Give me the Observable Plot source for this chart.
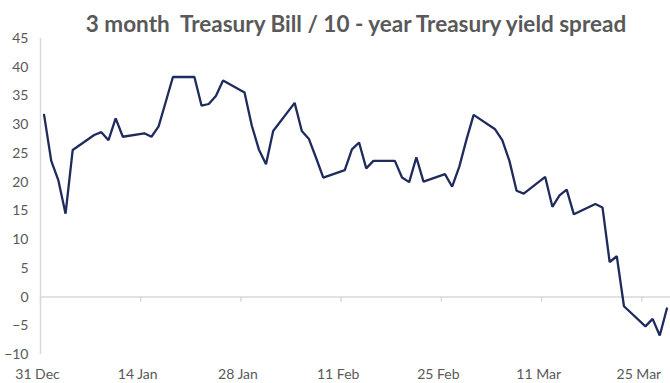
<!DOCTYPE html>
<html>
<head>
<meta charset="utf-8">
<script src="https://cdn.jsdelivr.net/npm/d3@7"></script>
<script src="https://cdn.jsdelivr.net/npm/@observablehq/plot@0.6"></script>
<style>
  html, body { margin: 0; padding: 0; background: #fff; }
  #wrap { position: relative; width: 670px; height: 383px; overflow: hidden; }
  #title { position: absolute; left: 0; width: 670px; top: 9px; text-align: center;
    font-family: Lato, sans-serif; font-weight: bold; font-size: 22.5px; color: #595959;
    line-height: 30px; padding-left: 42px; box-sizing: border-box; white-space: pre; }
</style>
</head>
<body>
<div id="wrap"><div id="title">3 month  Treasury Bill / 10 - year Treasury yield spread</div></div>
<script>
const dates = [
  "2018-12-31","2019-01-01","2019-01-02","2019-01-03","2019-01-04",
  "2019-01-07","2019-01-08","2019-01-09","2019-01-10","2019-01-11",
  "2019-01-14","2019-01-15","2019-01-16","2019-01-17","2019-01-18",
  "2019-01-21","2019-01-22","2019-01-23","2019-01-24","2019-01-25",
  "2019-01-28","2019-01-29","2019-01-30","2019-01-31","2019-02-01",
  "2019-02-04","2019-02-05","2019-02-06","2019-02-07","2019-02-08",
  "2019-02-11","2019-02-12","2019-02-13","2019-02-14","2019-02-15",
  "2019-02-18","2019-02-19","2019-02-20","2019-02-21","2019-02-22",
  "2019-02-25","2019-02-26","2019-02-27","2019-02-28","2019-03-01",
  "2019-03-04","2019-03-05","2019-03-06","2019-03-07","2019-03-08",
  "2019-03-11","2019-03-12","2019-03-13","2019-03-14","2019-03-15",
  "2019-03-18","2019-03-19","2019-03-20","2019-03-21","2019-03-22",
  "2019-03-25","2019-03-26","2019-03-27","2019-03-28"
];
const spread = [
  31.7, 23.7, 20.3, 14.5, 25.6,
  28.2, 28.7, 27.3, 31.1, 27.9,
  28.5, 27.9, 29.7, 34.0, 38.3,
  38.3, 33.3, 33.6, 35.0, 37.7,
  35.6, 29.9, 25.7, 23.1, 28.9,
  33.8, 28.9, 27.5, 24.2, 20.8,
  22.1, 25.7, 26.9, 22.4, 23.7,
  23.7, 20.8, 20.0, 24.3, 20.1,
  21.4, 19.2, 22.7, 27.4, 31.7,
  29.2, 27.3, 23.7, 18.5, 18.0,
  20.9, 15.7, 17.7, 18.7, 14.4,
  16.2, 15.6, 6.1, 7.1, -1.6,
  -5.1, -3.8, -6.7, -2.0
];
const tickDates = ["2018-12-31","2019-01-14","2019-01-28","2019-02-11","2019-02-25","2019-03-11","2019-03-25"];
const yTicks = [-10, -5, 0, 5, 10, 15, 20, 25, 30, 35, 40, 45];
const xStart = "2018-12-31", xEnd = "2019-03-29";

const parse = d3.utcParse("%Y-%m-%d");
// Excel date axis places each day's point in the middle of its day slot
const data = dates.map((d, i) => ({date: d3.utcHour.offset(parse(d), 12), value: spread[i]}));
const ticks = tickDates.map(parse);
const fmt = d3.utcFormat("%-d %b");

const chart = Plot.plot({
  width: 670,
  height: 383,
  marginLeft: 40,
  marginRight: 0,
  marginTop: 38,
  marginBottom: 29,
  style: {fontFamily: "Lato, sans-serif", fontSize: "14px", color: "#595959", background: "transparent"},
  x: {type: "utc", domain: [parse(xStart), parse(xEnd)]},
  y: {domain: [-10, 45]},
  marks: [
    Plot.ruleY([0], {stroke: "#d9d9d9", strokeWidth: 1.5}),
    Plot.ruleX(ticks, {x: d => d, y1: 0, y2: -0.9, stroke: "#d9d9d9", strokeWidth: 1.5}),
    Plot.ruleX([parse(xStart)], {y1: -10, y2: 45, stroke: "#d9d9d9", strokeWidth: 1.5}),
    Plot.axisY(yTicks, {tickSize: 0, tickPadding: 12, label: null, fill: "#595959"}),
    Plot.axisX(ticks, {tickSize: 0, tickPadding: 15, tickFormat: fmt, label: null, dx: -3, fill: "#595959"}),
    Plot.line(data, {x: "date", y: "value", stroke: "#1f2b5c", strokeWidth: 2.3, strokeLinejoin: "miter"})
  ]
});
document.getElementById("wrap").prepend(chart);
chart.style.position = "absolute";
chart.style.left = "0";
chart.style.top = "0";
</script>
</body>
</html>
